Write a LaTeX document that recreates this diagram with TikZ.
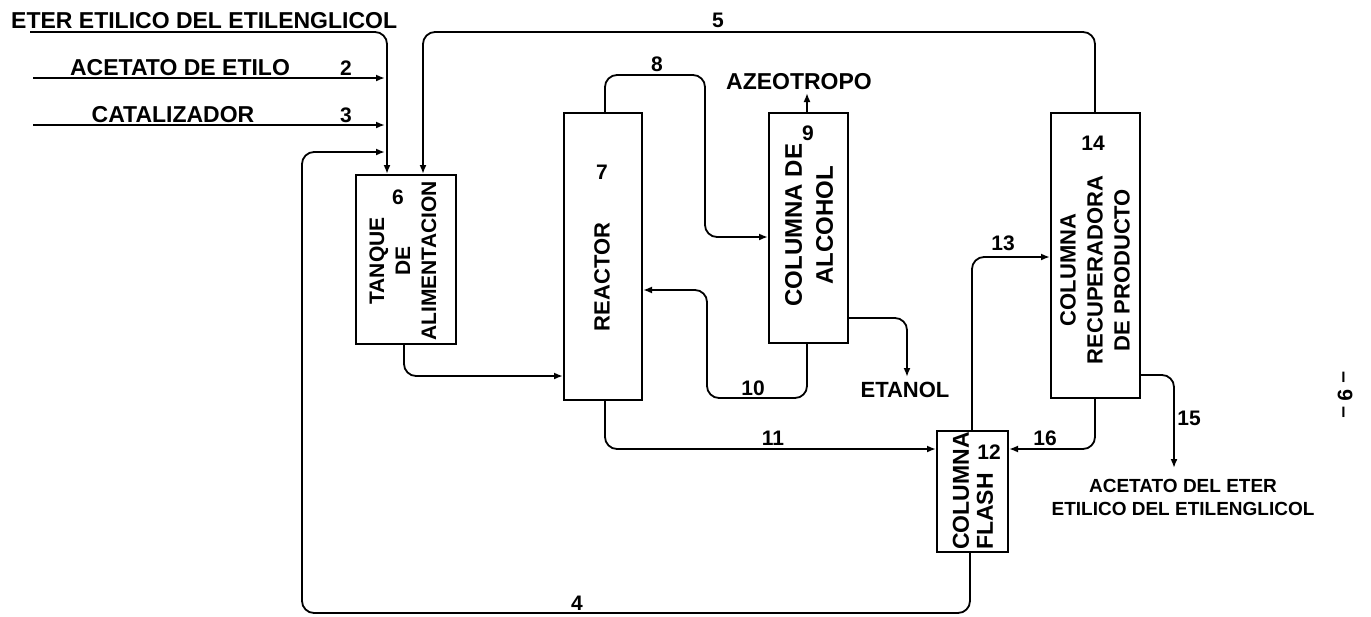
\documentclass[tikz,border=0pt]{standalone}
\usepackage{fontspec}
\setmainfont{Liberation Sans}
\usetikzlibrary{arrows.meta}
\begin{document}
\begin{tikzpicture}[x=1pt,y=-1pt,
  box/.style={draw, line width=2pt, inner sep=0pt},
  flow/.style={draw, line width=1.8pt, rounded corners=12pt, -{Latex[length=9pt,width=7pt]}},
  lbl/.style={font=\bfseries\fontsize{23}{26}\selectfont, inner sep=0pt},
  num/.style={font=\bfseries\fontsize{21}{24}\selectfont, inner sep=0pt},
  vtext/.style={font=\bfseries\fontsize{22}{27}\selectfont, inner sep=0pt, rotate=90, align=center}]
\useasboundingbox[fill=white] (0,0) rectangle (1371,616);

% equipment
\node[box, minimum width=100pt, minimum height=169pt] (tank) at (406,259.5) {};
\node[box, minimum width=78pt, minimum height=287pt] (reactor) at (603,256.5) {};
\node[box, minimum width=79pt, minimum height=230pt] (alc) at (808.5,228) {};
\node[box, minimum width=71pt, minimum height=121pt] (flash) at (972.5,491.5) {};
\node[box, minimum width=89pt, minimum height=285pt] (prod) at (1095.5,255.5) {};

% texts inside equipment
\node[vtext, font=\bfseries\fontsize{21}{26}\selectfont] (tanktxt) at (403,261) {TANQUE\\DE\\ALIMENTACION};
\node[num] (n6) at (398,197) {6};
\node[vtext] (reactxt) at (602,277) {REACTOR};
\node[num] (n7) at (602,172) {7};
\node[vtext, font=\bfseries\fontsize{24}{31}\selectfont] (alctxt) at (809,225) {COLUMNA DE\\ALCOHOL};
\node[num] (n9) at (808,133) {9};
\node[vtext, align=left, font=\bfseries\fontsize{23}{24}\selectfont] (flashtxt) at (973,491) {COLUMNA\\FLASH};
\node[num] (n12) at (989,452) {12};
\node[vtext] (prodtxt) at (1095,270) {COLUMNA\\RECUPERADORA\\DE PRODUCTO};
\node[num] (n14) at (1093,143) {14};

% coordinates
\coordinate (s1a) at (30,32);
\coordinate (s1b) at (387,32);
\coordinate (s2a) at (33,78);
\coordinate (s2b) at (385,78);
\coordinate (s3a) at (33,125);
\coordinate (s3b) at (385,125);
\coordinate (s4a) at (970,613);
\coordinate (s4b) at (302,613);
\coordinate (s4c) at (302,152);
\coordinate (s4d) at (385,152);
\coordinate (s5a) at (1095,32);
\coordinate (s5b) at (423,32);
\coordinate (t1) at (404,376);
\coordinate (s8a) at (605,75);
\coordinate (s8b) at (705,75);
\coordinate (s8c) at (705,237);
\coordinate (az) at (807,93);
\coordinate (s10a) at (807,398);
\coordinate (s10b) at (707,398);
\coordinate (s10c) at (707,290);
\coordinate (e1) at (907,318);
\coordinate (e2) at (907,377);
\coordinate (s11a) at (605,449);
\coordinate (s13a) at (972,257);
\coordinate (s16a) at (1095,449);
\coordinate (s15a) at (1174,375);
\coordinate (s15b) at (1174,468);

% streams
\draw[flow] (s1a) -- (s1b) -- (s1b |- tank.north);
\draw[flow] (s2a) -- (s2b);
\draw[flow] (s3a) -- (s3b);
\draw[flow] (s4a |- flash.south) -- (s4a) -- (s4b) -- (s4c) -- (s4d);
\draw[flow] (s5a |- prod.north) -- (s5a) -- (s5b) -- (s5b |- tank.north);
\draw[flow] (t1 |- tank.south) -- (t1) -- (t1 -| reactor.west);
\draw[flow] (s8a |- reactor.north) -- (s8a) -- (s8b) -- (s8c) -- (s8c -| alc.west);
\draw[flow] (az |- alc.north) -- (az);
\draw[flow] (s10a |- alc.south) -- (s10a) -- (s10b) -- (s10c) -- (s10c -| reactor.east);
\draw[flow] (e1 -| alc.east) -- (e1) -- (e2);
\draw[flow] (s11a |- reactor.south) -- (s11a) -- (s11a -| flash.west);
\draw[flow] (s13a |- flash.north) -- (s13a) -- (s13a -| prod.west);
\draw[flow] (s16a |- prod.south) -- (s16a) -- (s16a -| flash.east);
\draw[flow] (s15a -| prod.east) -- (s15a) -- (s15b);

% stream labels
\node[lbl, anchor=base west] (t1lbl) at (11,28) {ETER ETILICO DEL ETILENGLICOL};
\node[lbl, anchor=base] (t2lbl) at (180,75) {ACETATO DE ETILO};
\node[num, anchor=base] (n2) at (346,75) {2};
\node[lbl, anchor=base] (t3lbl) at (173,122) {CATALIZADOR};
\node[num, anchor=base] (n3) at (346,122) {3};
\node[num] (n5) at (718,20) {5};
\node[num] (n8) at (657,64) {8};
\node[lbl] (azlbl) at (799,82) {AZEOTROPO};
\node[num] (n10) at (753,388) {10};
\node[lbl, font=\bfseries\fontsize{22}{24}\selectfont] (etlbl) at (905,390) {ETANOL};
\node[num] (n11) at (773,438) {11};
\node[num] (n13) at (1003,243) {13};
\node[num] (n16) at (1045,438) {16};
\node[num] (n15) at (1189,418) {15};
\node[num] (n4) at (577,603) {4};
\node[lbl, font=\bfseries\fontsize{19}{23}\selectfont, align=center] (prodlbl) at (1183,497) {ACETATO DEL ETER\\ETILICO DEL ETILENGLICOL};
\node[num, rotate=-90] (page) at (1345,395) {-- 9 --};
\end{tikzpicture}
\end{document}
